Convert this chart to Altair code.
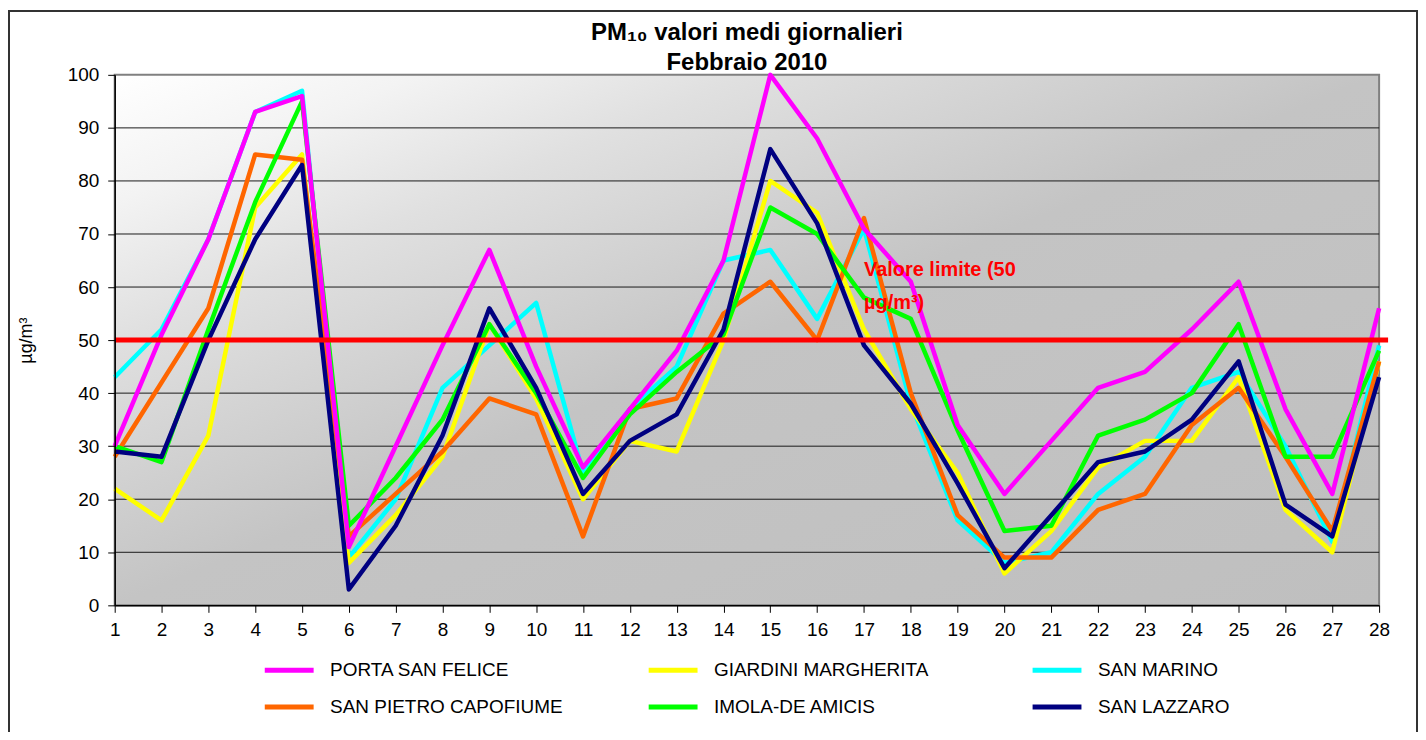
import altair as alt
import pandas as pd

# ---------------- data ----------------
days = list(range(1, 29))
stations = ["PORTA SAN FELICE", "GIARDINI MARGHERITA", "SAN MARINO",
            "SAN PIETRO CAPOFIUME", "IMOLA-DE AMICIS", "SAN LAZZARO"]
colors = ["#ff00ff", "#ffff00", "#00ffff", "#ff6600", "#00ff00", "#000080"]

porta_san_felice = [30, 51, 69, 93, 96, 11, 30, 49, 67, 45, 26, 37, 48, 65,
                    100, 88, 71, 61, 34, 21, 31, 41, 44, 52, 61, 37, 21, 56]
giardini_margherita = [22, 16, 32, 75, 85, 8, 17, 28, 53, 39, 20, 31, 29, 50,
                       80, 74, 52, 37, 25, 6, 14, 26, 31, 31, 43, 18, 10, 46]
san_marino = [43, 52, 69, 93, 97, 9, 20, 41, 49, 57, 25, 37, 45, 65,
              67, 54, 71, 38, 16, 8, 10, 21, 28, 41, 44, 30, 12, 49]
san_pietro_capofiume = [28, 42, 56, 85, 84, 13, 21, 29, 39, 36, 13, 37, 39, 55,
                        61, 50, 73, 40, 17, 9, 9, 18, 21, 34, 41, 28, 14, 46]
imola_de_amicis = [30, 27, 52, 76, 95, 15, 24, 35, 53, 40, 24, 36, 44, 51,
                   75, 70, 58, 54, 33, 14, 15, 32, 35, 40, 53, 28, 28, 48]
san_lazzaro = [29, 28, 50, 69, 83, 3, 15, 32, 56, 41, 21, 31, 36, 52,
               86, 72, 49, 38, 23, 7, 17, 27, 29, 35, 46, 19, 13, 43]

series_values = [porta_san_felice, giardini_margherita, san_marino,
                 san_pietro_capofiume, imola_de_amicis, san_lazzaro]
# drawing order (later on top)
draw_order = ["SAN MARINO", "GIARDINI MARGHERITA", "SAN PIETRO CAPOFIUME",
              "IMOLA-DE AMICIS", "PORTA SAN FELICE", "SAN LAZZARO"]

y_ticks = list(range(0, 101, 10))
grid_values = list(range(10, 100, 10))
limit_value = [50]
annot_x = [17]
annot_y = [62]
annot_text = ["Valore limite  (50\nµg/m³)"]

title_lines = ["PM₁₀ valori medi giornalieri", "Febbraio 2010"]
y_title = "µg/m³"

# ---------------- tables ----------------
rows = []
for name, vals in zip(stations, series_values):
    for d, v in zip(days, vals):
        rows.append({"day": d, "value": v, "station": name})
df = pd.DataFrame(rows)
grid_df = pd.DataFrame({"value": grid_values})
limit_df = pd.DataFrame({"value": limit_value})
annot_df = pd.DataFrame({"day": annot_x, "value": annot_y, "label": annot_text})
one = pd.DataFrame({"a": [0]})

W, H = 1268, 532
FONT = "Liberation Sans"

xscale = alt.Scale(domain=[1, 28], nice=False, zero=False)
yscale = alt.Scale(domain=[0, 100], nice=False)
xaxis = alt.Axis(values=days, title=None, grid=False, labelFontSize=19,
                 labelColor="black", tickColor="black", tickSize=7,
                 labelPadding=8, domainColor="black", domainWidth=1.5,
                 labelFont=FONT, zindex=1, labelFlush=False)
yaxis = alt.Axis(values=y_ticks, title=y_title, grid=False, labelFontSize=19,
                 labelColor="black", tickColor="black", tickSize=7,
                 labelPadding=9, domainColor="black", domainWidth=1.5,
                 labelFont=FONT, titleFont=FONT, titleFontSize=18,
                 titleFontWeight="normal", titleColor="black",
                 titlePadding=32, zindex=1)

X = lambda f: alt.X(f, type="quantitative", scale=xscale, axis=xaxis)
Y = lambda f: alt.Y(f, type="quantitative", scale=yscale, axis=yaxis)

gradient = alt.LinearGradient(
    gradient="linear", x1=0, y1=0, x2=1, y2=1,
    stops=[alt.GradientStop(color="#ffffff", offset=0),
           alt.GradientStop(color="#f3f3f3", offset=0.12),
           alt.GradientStop(color="#e0e0e0", offset=0.25),
           alt.GradientStop(color="#c4c4c4", offset=0.5),
           alt.GradientStop(color="#bfbfbf", offset=1)])

background = alt.Chart(one).mark_rect(
    color=gradient, stroke="#808080", strokeWidth=2
).encode(x=alt.value(0), x2=alt.value(W), y=alt.value(0), y2=alt.value(H))

frame = alt.Chart(one).mark_rect(
    filled=False, stroke="#333333", strokeWidth=2
).encode(x=alt.value(9 - 115), x2=alt.value(1421 - 115),
         y=alt.value(10 - 74), y2=alt.value(760))

grid = alt.Chart(grid_df).mark_rule(color="#1a1a1a", strokeWidth=1).encode(
    y=Y("value"))

color_scale = alt.Scale(domain=stations, range=colors)
legend = alt.Legend(
    title=None, orient="none", legendX=148, legendY=570, columns=3,
    direction="horizontal", gridAlign="all", columnPadding=75, rowPadding=-11,
    symbolType="stroke", symbolSize=2401, symbolStrokeWidth=5,
    labelFontSize=19, labelFont=FONT, labelColor="black", labelOffset=14,
    labelLimit=400)

line_layers = []
for name in draw_order:
    line_layers.append(
        alt.Chart(df).transform_filter(alt.datum.station == name)
        .mark_line(strokeWidth=4.5, strokeJoin="round")
        .encode(x=X("day"), y=Y("value"),
                color=alt.Color("station:N", scale=color_scale, legend=legend))
    )

limit = alt.Chart(limit_df).mark_rule(color="#ff0000", strokeWidth=5).encode(
    y=Y("value"), x=alt.value(0), x2=alt.value(W + 9))

annot = alt.Chart(annot_df).mark_text(
    align="left", baseline="alphabetic", lineBreak="\n", lineHeight=33,
    fontSize=20, fontWeight="bold", color="#ff0000", font=FONT
).encode(x=X("day"), y=Y("value"), text="label:N")

chart = alt.layer(frame, background, grid, *line_layers, limit, annot).properties(
    width=W, height=H,
    title=alt.TitleParams(text=title_lines, fontSize=24, font=FONT,
                          fontWeight="bold", anchor="middle", color="black",
                          lineHeight=30, offset=0, dy=65),
    autosize=alt.AutoSizeParams(type="none"),
    padding={"left": 107, "top": 66, "right": 39, "bottom": 126},
).configure(font=FONT).configure_view(stroke=None)

chart.save("out.html", embed_options={"renderer": "svg", "actions": False})
